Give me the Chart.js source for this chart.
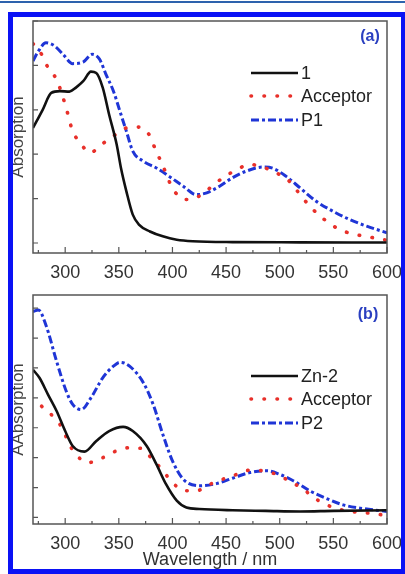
<!DOCTYPE html>
<html lang="en">
<head>
    <meta charset="UTF-8">
    <title>Absorption spectra</title>
    <script src="https://cdn.jsdelivr.net/npm/chart.js"></script>
    <style>
        body { margin: 0; background: #fff; width: 405px; height: 574px; position: relative; overflow: hidden; }
        canvas { position: absolute; left: 0; }
        #topLine { position: absolute; left: 0; top: 1px; width: 405px; height: 2px; background: #2d62ad; }
        #frame { position: absolute; left: 8px; top: 12px; width: 398px; height: 562px; box-sizing: border-box; border: 5px solid #0b12f5; pointer-events: none; }
    </style>
</head>
<body>
    <div id="topLine"></div>
    <canvas id="chartA" width="405" height="285" style="top:0"></canvas>
    <canvas id="chartB" width="405" height="289" style="top:285px"></canvas>
    <div id="frame"></div>

    <script>
        // axis ticks
        const xMajorTicks = [300, 350, 400, 450, 500, 550, 600];
        const xMinorTicks = [275, 325, 375, 425, 475, 525, 575];
        const yTicksA = [0, 1, 2, 3, 4, 5];
        const yTicksB = [0, 1, 2, 3, 4, 5, 6, 7];

        // panel (a)
        const wl1 = [270, 279, 287, 295, 304, 310, 317, 324, 329, 335, 341, 348, 352, 357, 363, 369, 379, 391, 404, 419, 456, 519, 600];
        const abs1 = [2.59, 3.0, 3.38, 3.42, 3.41, 3.5, 3.65, 3.86, 3.83, 3.5, 2.89, 2.22, 1.69, 1.17, 0.64, 0.41, 0.26, 0.15, 0.075, 0.04, 0.02, 0.015, 0.01];
        const wlAccA = [270, 278, 284, 292, 300, 307, 314, 323, 334, 345, 357, 369, 379, 384, 390, 400, 411, 422, 435, 447, 460, 472, 484, 497, 509, 519, 528, 540, 553, 564, 575, 587, 600];
        const absAccA = [4.49, 4.25, 3.95, 3.68, 3.12, 2.52, 2.26, 2.03, 2.22, 2.41, 2.59, 2.61, 2.41, 2.11, 1.80, 1.24, 0.98, 1.02, 1.24, 1.47, 1.65, 1.77, 1.71, 1.58, 1.39, 1.09, 0.83, 0.56, 0.34, 0.23, 0.17, 0.12, 0.06];
        const wlP1 = [270, 275, 282, 290, 298, 307, 317, 325, 332, 338, 345, 351, 357, 363, 373, 385, 397, 410, 422, 432, 444, 456, 469, 484, 494, 506, 519, 534, 550, 565, 581, 600];
        const absP1 = [4.10, 4.32, 4.51, 4.44, 4.25, 4.04, 4.08, 4.25, 4.14, 3.80, 3.42, 2.97, 2.52, 2.07, 1.84, 1.69, 1.50, 1.28, 1.09, 1.13, 1.28, 1.47, 1.62, 1.71, 1.68, 1.50, 1.24, 0.94, 0.71, 0.53, 0.38, 0.23];

        // panel (b)
        const wlZn2 = [270, 276, 284, 292, 300, 307, 318, 329, 341, 354, 363, 376, 385, 394, 404, 413, 425, 456, 487, 519, 550, 600];
        const absZn2 = [4.94, 4.67, 4.11, 3.56, 2.89, 2.39, 2.2, 2.56, 2.89, 3.03, 2.89, 2.39, 1.78, 1.11, 0.56, 0.33, 0.28, 0.24, 0.22, 0.2, 0.22, 0.24];
        const wlAccB = [278, 290, 298, 303, 310, 321, 334, 346, 359, 371, 380, 390, 400, 411, 422, 435, 447, 460, 472, 484, 497, 509, 522, 534, 550, 562, 575, 587, 600];
        const absAccB = [3.72, 3.33, 2.94, 2.5, 2.11, 1.83, 1.98, 2.2, 2.33, 2.31, 2.0, 1.61, 1.17, 0.89, 0.89, 1.11, 1.28, 1.44, 1.58, 1.56, 1.44, 1.22, 0.94, 0.61, 0.33, 0.22, 0.17, 0.13, 0.06];
        const wlP2 = [270, 275, 282, 292, 301, 307, 315, 324, 335, 345, 351, 360, 373, 382, 391, 400, 410, 425, 441, 456, 472, 488, 500, 513, 528, 545, 559, 575, 600];
        const absP2 = [6.89, 6.94, 6.44, 5.22, 4.22, 3.78, 3.61, 4.0, 4.67, 5.06, 5.19, 5.06, 4.5, 3.78, 2.78, 1.89, 1.28, 1.06, 1.13, 1.31, 1.5, 1.56, 1.44, 1.22, 0.89, 0.61, 0.42, 0.31, 0.2];

        const FONT = '"Liberation Sans", Arial, sans-serif';
        const BLACK = '#111111';
        const RED = '#e8302a';
        const BLUE = '#1f35d6';

        function pts(xs, ys) {
            return xs.map((x, i) => ({ x: x, y: ys[i] }));
        }

        function series(label, xs, ys, color, dash, width) {
            return {
                label: label,
                data: pts(xs, ys),
                borderColor: color,
                borderWidth: width,
                borderDash: dash,
                borderCapStyle: dash.length === 2 ? 'round' : 'butt',
                pointRadius: 0,
                cubicInterpolationMode: 'monotone',
                fill: false
            };
        }

        // box, inward ticks, legend and panel tag
        const decor = {
            id: 'decor',
            afterDraw(chart, args, opts) {
                const ctx = chart.ctx;
                const a = chart.chartArea;
                const xs = chart.scales.x;
                const ys = chart.scales.y;
                ctx.save();
                ctx.strokeStyle = '#555';
                ctx.lineWidth = 1.5;
                ctx.setLineDash([]);
                ctx.strokeRect(a.left, a.top, a.right - a.left, a.bottom - a.top);
                ctx.lineWidth = 1.2;
                ctx.beginPath();
                xMajorTicks.forEach(v => {
                    const px = xs.getPixelForValue(v);
                    ctx.moveTo(px, a.bottom); ctx.lineTo(px, a.bottom - 6);
                });
                xMinorTicks.forEach(v => {
                    const px = xs.getPixelForValue(v);
                    ctx.moveTo(px, a.bottom); ctx.lineTo(px, a.bottom - 3);
                });
                opts.yTicks.forEach(v => {
                    const py = ys.getPixelForValue(v);
                    ctx.moveTo(a.left, py); ctx.lineTo(a.left + 5, py);
                });
                ctx.stroke();

                // legend
                ctx.font = '18px ' + FONT;
                ctx.textBaseline = 'middle';
                ctx.fillStyle = '#222';
                chart.data.datasets.forEach((ds, i) => {
                    const y = opts.legendY[i];
                    ctx.save();
                    ctx.strokeStyle = ds.borderColor;
                    ctx.lineWidth = ds.borderWidth;
                    ctx.setLineDash(ds.borderDash);
                    ctx.lineCap = ds.borderCapStyle;
                    ctx.beginPath();
                    ctx.moveTo(251, y);
                    ctx.lineTo(298, y);
                    ctx.stroke();
                    ctx.restore();
                    ctx.fillText(ds.label, 301, y + 1);
                });

                ctx.font = 'bold 16px ' + FONT;
                ctx.fillStyle = '#2a3fc0';
                ctx.textAlign = 'center';
                ctx.fillText(opts.tag, opts.tagX, opts.tagY);
                ctx.restore();
            }
        };

        function makeChart(id, datasets, yMin, yMax, yTitle, showXTitle, padTop, xHeight, extra) {
            return new Chart(document.getElementById(id), {
                type: 'line',
                data: { datasets: datasets },
                options: {
                    responsive: false,
                    animation: false,
                    devicePixelRatio: 1,
                    layout: { padding: { left: 8, right: 18, top: padTop, bottom: 0 } },
                    plugins: {
                        legend: { display: false },
                        tooltip: { enabled: false },
                        decor: extra
                    },
                    scales: {
                        x: {
                            type: 'linear',
                            min: 270,
                            max: 600,
                            grid: { display: false },
                            border: { display: false },
                            afterBuildTicks: s => { s.ticks = xMajorTicks.map(v => ({ value: v })); },
                            afterFit: s => { s.height = xHeight; },
                            ticks: {
                                padding: 1,
                                color: '#333',
                                font: { family: FONT, size: 18 },
                                maxRotation: 0
                            },
                            title: {
                                display: showXTitle,
                                text: 'Wavelength / nm',
                                color: '#333',
                                font: { family: FONT, size: 18 },
                                padding: { top: 0, bottom: 3 }
                            }
                        },
                        y: {
                            min: yMin,
                            max: yMax,
                            grid: { display: false },
                            border: { display: false },
                            ticks: { display: false },
                            afterFit: s => { s.width = 25; },
                            title: {
                                display: true,
                                text: yTitle,
                                color: '#444',
                                font: { family: FONT, size: 17 },
                                padding: 0
                            }
                        }
                    }
                },
                plugins: [decor]
            });
        }

        makeChart('chartA', [
            series('1', wl1, abs1, BLACK, [], 2.6),
            series('Acceptor', wlAccA, absAccA, RED, [0.5, 12.5], 3.6),
            series('P1', wlP1, absP1, BLUE, [8, 3, 3, 3], 3)
        ], -0.225, 5.0, 'Absorption', false, 21, 32,
            { yTicks: yTicksA, legendY: [73, 96, 120], tag: '(a)', tagX: 370, tagY: 37 });

        makeChart('chartB', [
            series('Zn-2', wlZn2, absZn2, BLACK, [], 2.6),
            series('Acceptor', wlAccB, absAccB, RED, [0.5, 12.5], 3.6),
            series('P2', wlP2, absP2, BLUE, [8, 3, 3, 3], 3)
        ], -0.22, 7.44, 'AAbsorption', true, 10, 50,
            { yTicks: yTicksB, legendY: [91, 114, 138], tag: '(b)', tagX: 368, tagY: 30 });
    </script>
</body>
</html>
